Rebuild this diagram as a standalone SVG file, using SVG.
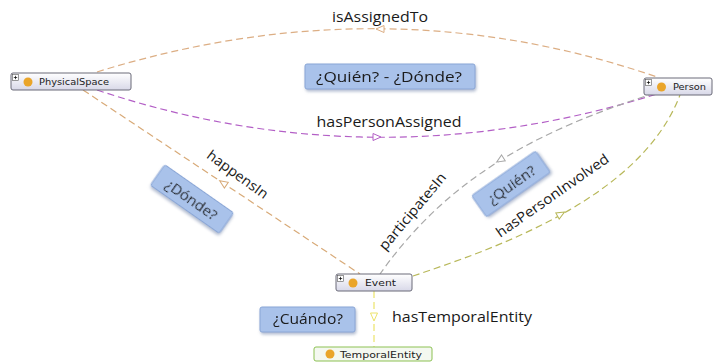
<svg xmlns="http://www.w3.org/2000/svg" xmlns:xlink="http://www.w3.org/1999/xlink" width="715" height="363" viewBox="0 0 715 363">
<style>
.conn{fill:none;stroke-width:1.2;stroke-dasharray:7,4}
.lbl{font-family:"Open Sans","Liberation Sans",sans-serif;font-size:14px;fill:#1a1a1a}
.q{fill:#a9c2ea;stroke:#8aa6d6;stroke-width:1}
.qt{font-family:"Open Sans","Liberation Sans",sans-serif;font-size:15px;fill:#1a1a1a}
.node{fill:url(#ng);stroke:#6a6a78;stroke-width:1}
.nt{font-family:"DejaVu Sans","Liberation Sans",sans-serif;font-size:8px;fill:#222}
.ic{fill:#eaa52a}
.plus{fill:#fff;stroke:#555;stroke-width:0.6}
.ah{fill:#fff;stroke-width:1}
</style>
<defs>
<linearGradient id="ng" x1="0" y1="0" x2="0" y2="1">
<stop offset="0" stop-color="#ffffff"/>
<stop offset="1" stop-color="#d8d8e8"/>
</linearGradient>
<filter id="sh" x="-20%" y="-30%" width="140%" height="170%">
<feDropShadow dx="1" dy="2" stdDeviation="1.5" flood-color="#7f8fb0" flood-opacity="0.6"/>
</filter>
<path id="tri" d="M4,0 L-4,-3.5 L-4,3.5 Z"/>
</defs>

<g id="connectors">
<path id="e-isAssignedTo" class="conn" stroke="#dcae84" d="M97,72 Q383,-17 657,77"/>
<use xlink:href="#tri" class="ah" stroke="#dcae84" transform="translate(380,29) rotate(180)"/>
<path id="e-hasPersonAssigned" class="conn" stroke="#b35fc6" d="M97,90 Q376,183 660,93"/>
<use xlink:href="#tri" class="ah" stroke="#b35fc6" transform="translate(377,137)"/>
<path id="e-happensIn" class="conn" stroke="#d8aa78" d="M83,90 L360,274"/>
<use xlink:href="#tri" class="ah" stroke="#d8aa78" transform="translate(223,183) rotate(-146.4)"/>
<path id="e-participatesIn" class="conn" stroke="#a8a8a8" d="M655,93 C540,130 450,175 380,274"/>
<use xlink:href="#tri" class="ah" stroke="#a8a8a8" transform="translate(500,160) rotate(148)"/>
<path id="e-hasPersonInvolved" class="conn" stroke="#b8b85a" d="M413,276 C490,250 640,200 680,95"/>
<use xlink:href="#tri" class="ah" stroke="#b8b85a" transform="translate(561,214) rotate(-29)"/>
<path id="e-hasTemporalEntity" class="conn" stroke="#ece36a" d="M374,291 L374,347"/>
<use xlink:href="#tri" class="ah" stroke="#ece36a" transform="translate(374,317) rotate(90)"/>

<text class="lbl" x="380" y="22" text-anchor="middle" textLength="96" lengthAdjust="spacingAndGlyphs">isAssignedTo</text>
<text class="lbl" x="389" y="127" text-anchor="middle" textLength="145" lengthAdjust="spacingAndGlyphs">hasPersonAssigned</text>
<text class="lbl" transform="translate(238,174) rotate(36)" text-anchor="middle" dominant-baseline="central" textLength="72" lengthAdjust="spacingAndGlyphs">happensIn</text>
<text class="lbl" transform="translate(412,211) rotate(-50)" text-anchor="middle" dominant-baseline="central" textLength="96" lengthAdjust="spacingAndGlyphs">participatesIn</text>
<text class="lbl" transform="translate(552,195) rotate(-35)" text-anchor="middle" dominant-baseline="central" textLength="134" lengthAdjust="spacingAndGlyphs">hasPersonInvolved</text>
<text class="lbl" x="392" y="322" textLength="140" lengthAdjust="spacingAndGlyphs">hasTemporalEntity</text>
</g>

<g id="q-quien-donde" filter="url(#sh)">
<rect class="q" x="305" y="64" width="170" height="25" rx="2"/>
<text class="qt" x="389" y="82" text-anchor="middle" textLength="146" lengthAdjust="spacingAndGlyphs">¿Quién? - ¿Dónde?</text>
</g>
<g id="q-donde" filter="url(#sh)" transform="translate(192,199) rotate(35)">
<rect class="q" x="-42" y="-12.5" width="84" height="25" rx="2"/>
<text class="qt" x="0" y="0" text-anchor="middle" dominant-baseline="central">¿Dónde?</text>
</g>
<g id="q-quien" filter="url(#sh)" transform="translate(511,184) rotate(-35)">
<rect class="q" x="-39" y="-13" width="78" height="26" rx="2"/>
<text class="qt" x="0" y="0" text-anchor="middle" dominant-baseline="central">¿Quién?</text>
</g>
<g id="q-cuando" filter="url(#sh)">
<rect class="q" x="260" y="307" width="95" height="25" rx="2"/>
<text class="qt" x="308" y="324" text-anchor="middle" textLength="70" lengthAdjust="spacingAndGlyphs">¿Cuándo?</text>
</g>

<g id="n-PhysicalSpace">
<rect class="node" x="11" y="73" width="120" height="17" rx="2"/>
<rect class="plus" x="12.5" y="74.5" width="6" height="6"/>
<path d="M13.8,77.5 H17.2 M15.5,75.8 V79.2" stroke="#000" stroke-width="0.7"/>
<circle class="ic" cx="28" cy="82" r="4.5"/>
<text class="nt" x="39" y="85" textLength="70" lengthAdjust="spacingAndGlyphs">PhysicalSpace</text>
</g>
<g id="n-Person">
<rect class="node" x="644" y="78" width="68" height="17" rx="2"/>
<rect class="plus" x="645.5" y="79.5" width="6" height="6"/>
<path d="M646.8,82.5 H650.2 M648.5,80.8 V84.2" stroke="#000" stroke-width="0.7"/>
<circle class="ic" cx="661.5" cy="87" r="4.5"/>
<text class="nt" x="673" y="90" textLength="33" lengthAdjust="spacingAndGlyphs">Person</text>
</g>
<g id="n-Event">
<rect class="node" x="336" y="274" width="76" height="17" rx="2"/>
<rect class="plus" x="337.5" y="275.5" width="6" height="6"/>
<path d="M338.8,278.5 H342.2 M340.5,276.8 V280.2" stroke="#000" stroke-width="0.7"/>
<circle class="ic" cx="353" cy="283" r="4.5"/>
<text class="nt" x="365" y="286" textLength="31" lengthAdjust="spacingAndGlyphs">Event</text>
</g>
<g id="n-TemporalEntity">
<rect class="node" x="314" y="347" width="118" height="14" rx="2" style="stroke:#8cc152;fill:#f4f8f0"/>
<circle class="ic" cx="330" cy="354" r="4.5"/>
<text class="nt" x="340" y="357.5" textLength="82" lengthAdjust="spacingAndGlyphs">TemporalEntity</text>
</g>
</svg>
